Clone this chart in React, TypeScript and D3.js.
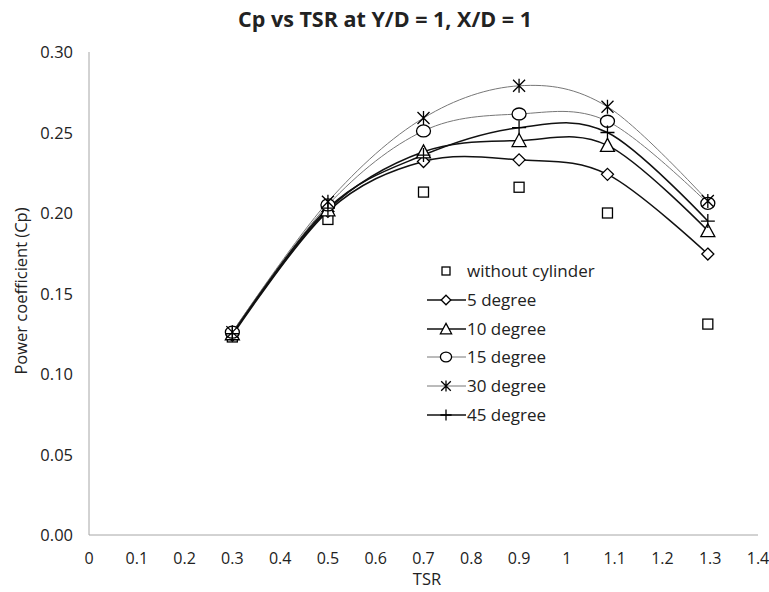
import { useEffect, useRef } from 'react';
import * as d3 from 'd3';

const tsr = [0.3, 0.5, 0.7, 0.9, 1.085, 1.295];
const withoutCylinder = [0.123, 0.196, 0.213, 0.216, 0.2, 0.131];
const deg5 = [0.124, 0.201, 0.232, 0.233, 0.224, 0.1745];
const deg10 = [0.125, 0.202, 0.238, 0.245, 0.242, 0.189];
const deg15 = [0.126, 0.205, 0.251, 0.2615, 0.257, 0.206];
const deg30 = [0.126, 0.207, 0.259, 0.279, 0.266, 0.2075];
const deg45 = [0.125, 0.203, 0.236, 0.253, 0.25, 0.195];
const xTicks = [0, 0.1, 0.2, 0.3, 0.4, 0.5, 0.6, 0.7, 0.8, 0.9, 1, 1.1, 1.2, 1.3, 1.4];
const yTicks = [0, 0.05, 0.1, 0.15, 0.2, 0.25, 0.3];

const series = [
  { name: 'without cylinder', values: withoutCylinder, marker: 'square', line: false, color: '#000', width: 0 },
  { name: '5 degree', values: deg5, marker: 'diamond', line: true, color: '#111', width: 1.5 },
  { name: '10 degree', values: deg10, marker: 'triangle', line: true, color: '#111', width: 1.5 },
  { name: '15 degree', values: deg15, marker: 'circle', line: true, color: '#777', width: 1 },
  { name: '30 degree', values: deg30, marker: 'star', line: true, color: '#777', width: 1 },
  { name: '45 degree', values: deg45, marker: 'plus', line: true, color: '#111', width: 1.5 },
];

const FONT = '"Open Sans", "Liberation Sans", sans-serif';

function drawMarker(g: any, type: string, cx: number, cy: number, k = 1) {
  const m = g.append('g').attr('transform', `translate(${cx},${cy}) scale(${k})`)
    .attr('fill', 'white').attr('stroke', '#000').attr('stroke-width', 1.3 / k);
  if (type === 'square') m.append('rect').attr('x', -5).attr('y', -5).attr('width', 10).attr('height', 10);
  if (type === 'diamond') m.append('path').attr('d', 'M0,-6L6,0L0,6L-6,0Z');
  if (type === 'triangle') m.append('path').attr('d', 'M0,-7L7,6L-7,6Z');
  if (type === 'circle') m.append('ellipse').attr('rx', 7).attr('ry', 6);
  if (type === 'star') {
    m.append('path').attr('fill', 'none')
      .attr('d', 'M-6,-6L6,6M-6,6L6,-6M0,-7L0,7');
  }
  if (type === 'plus') m.append('path').attr('fill', 'none').attr('d', 'M-7,0L7,0M0,-7L0,7');
}

export default function App() {
  const svgRef = useRef<SVGSVGElement>(null);

  useEffect(() => {
    const svg = d3.select(svgRef.current);
    svg.selectAll('*').remove();

    const x = d3.scaleLinear().domain([0, 1.4]).range([89, 758]);
    const y = d3.scaleLinear().domain([0, 0.3]).range([535, 52]);

    svg.append('rect').attr('width', 769).attr('height', 592).attr('fill', 'white');

    // axes
    svg.append('line').attr('x1', x(0)).attr('x2', x(0)).attr('y1', y(0)).attr('y2', y(0.3))
      .attr('stroke', '#a6a6a6');
    svg.append('line').attr('x1', x(0)).attr('x2', x(1.4)).attr('y1', y(0)).attr('y2', y(0))
      .attr('stroke', '#a6a6a6');

    svg.append('g').selectAll('text').data(yTicks).enter().append('text')
      .attr('x', 73).attr('y', d => y(d) + 6).attr('text-anchor', 'end')
      .style('font-family', FONT).style('font-size', '16.5px').attr('fill', '#222')
      .text(d => d3.format('.2f')(d));

    svg.append('g').selectAll('text').data(xTicks).enter().append('text')
      .attr('x', d => x(d)).attr('y', 564).attr('text-anchor', 'middle')
      .style('font-family', FONT).style('font-size', '16px').attr('fill', '#222')
      .text(d => String(d));

    svg.append('text').attr('x', 385).attr('y', 27).attr('text-anchor', 'middle')
      .style('font-family', FONT).style('font-size', '21.5px').style('font-weight', 'bold')
      .attr('fill', '#222').text('Cp vs TSR at Y/D = 1, X/D = 1');

    svg.append('text').attr('x', 427).attr('y', 585).attr('text-anchor', 'middle')
      .style('font-family', FONT).style('font-size', '16.5px').attr('fill', '#222').text('TSR');

    svg.append('text').attr('transform', 'translate(27,291) rotate(-90)').attr('text-anchor', 'middle')
      .style('font-family', FONT).style('font-size', '16.5px').attr('fill', '#222')
      .text('Power coefficient (Cp)');

    const line = d3.line<number>()
      .x((_, i) => x(tsr[i]))
      .y(d => y(d))
      .curve(d3.curveCardinal.tension(0));

    series.forEach(s => {
      if (s.line) {
        svg.append('path').attr('d', line(s.values)).attr('fill', 'none')
          .attr('stroke', s.color).attr('stroke-width', s.width);
      }
    });
    series.forEach(s => {
      s.values.forEach((v, i) => drawMarker(svg, s.marker, x(tsr[i]), y(v)));
    });

    // legend
    const legendY = [271, 300, 329, 357, 386, 415];
    series.forEach((s, i) => {
      const ly = legendY[i];
      if (s.line) {
        svg.append('line').attr('x1', 427).attr('x2', 466).attr('y1', ly).attr('y2', ly)
          .attr('stroke', s.color).attr('stroke-width', s.width);
      }
      drawMarker(svg, s.marker, 446, ly, 0.8);
      svg.append('text').attr('x', 467).attr('y', ly + 6)
        .style('font-family', FONT).style('font-size', '17px').attr('fill', '#222').text(s.name);
    });
  }, []);

  return (
    <svg ref={svgRef} width={769} height={592} style={{ position: 'absolute', left: 0, top: 0 }} />
  );
}
